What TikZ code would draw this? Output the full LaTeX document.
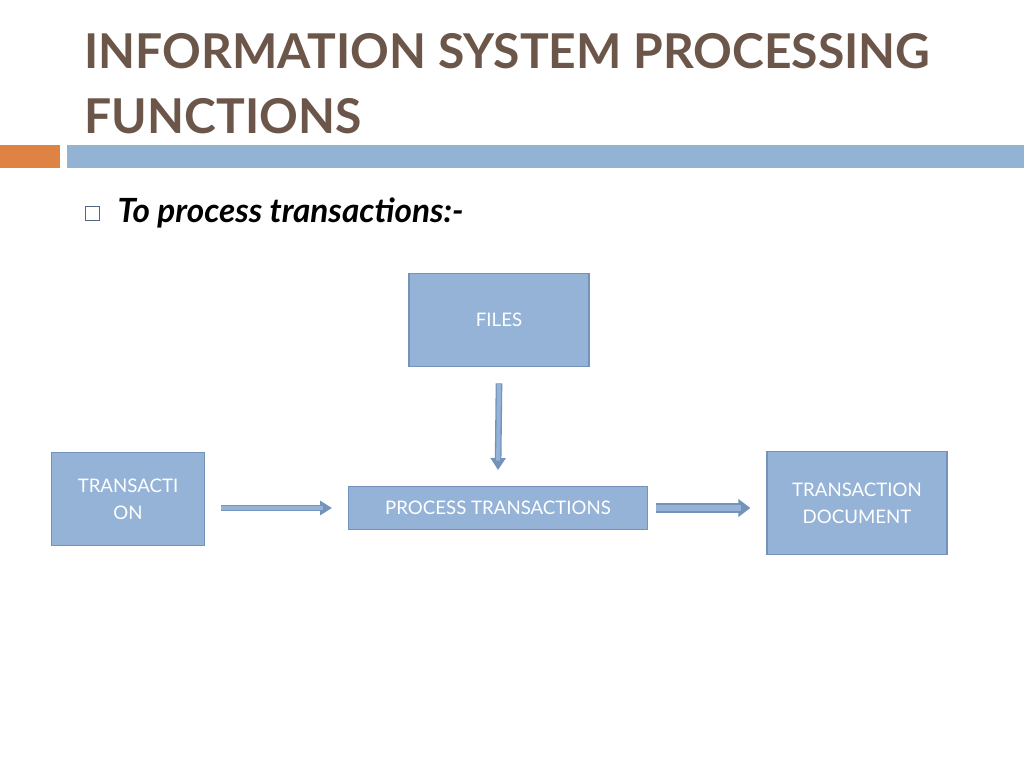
\documentclass[tikz,border=0pt]{standalone}
\usepackage{fontspec}
\setmainfont{Lato}
\usetikzlibrary{arrows.meta}
\definecolor{titlebrown}{HTML}{6B5649}
\definecolor{boxfill}{HTML}{95B3D7}
\definecolor{boxedge}{HTML}{7393BA}
\definecolor{barorange}{HTML}{DF8344}
\definecolor{barblue}{HTML}{93B3D4}
\tikzset{
  procbox/.style={draw=boxedge, line width=1pt, fill=boxfill, text=white,
    font=\fontsize{14}{17}\selectfont, align=center, inner sep=0pt},
  blockarrow/.style={draw=boxedge, line width=#1+2pt,
    -{Triangle[length=9pt,width=#1+8pt]},
    postaction={draw=boxfill, line width=#1, -, shorten >=7pt}},
  blockarrow/.default=3pt
}
\begin{document}
\begin{tikzpicture}[x=0.75pt,y=-0.75pt]
  \useasboundingbox (0,0) rectangle (1024,768);
  % title and bars
  \node[anchor=base west, text=titlebrown, font=\fontsize{36}{46}\selectfont\bfseries]
    (title) at (80,68) {INFORMATION SYSTEM PROCESSING};
  \node[anchor=base west, text=titlebrown, font=\fontsize{36}{46}\selectfont\bfseries]
    (title2) at (80,133) {FUNCTIONS};
  \fill[barorange] (0,145) rectangle (60,168);
  \fill[barblue] (67,145) rectangle (1024,168);
  % bullet
  \draw[boxedge!70!black, line width=0.6pt] (85,206) rectangle (99,220);
  \node[anchor=base west, font=\fontsize{25}{30}\selectfont\bfseries\itshape]
    (bullet) at (113,222) {To process transactions:-};
  % boxes
  \node[procbox, minimum width=135pt, minimum height=70pt] (files) at (499,320) {FILES};
  \node[procbox, minimum width=115pt, minimum height=70pt] (trans) at (128,499) {TRANSACTI\\[3pt]ON};
  \node[procbox, minimum width=224pt, minimum height=32pt] (proc) at (498,508) {PROCESS TRANSACTIONS};
  \node[procbox, minimum width=135pt, minimum height=77pt] (doc) at (857,503) {TRANSACTION\\[3pt]DOCUMENT};
  % connectors
  \draw[blockarrow] ([yshift=-12pt]files.south) -- ([yshift=12pt]proc.north);
  \draw[blockarrow=2.5pt] ([xshift=12pt]trans.east |- proc.center) -- ([xshift=-12pt]proc.west);
  \draw[blockarrow=5pt] ([xshift=6pt]proc.east) -- ([xshift=-12pt]doc.west |- proc.center);
\end{tikzpicture}
\end{document}
